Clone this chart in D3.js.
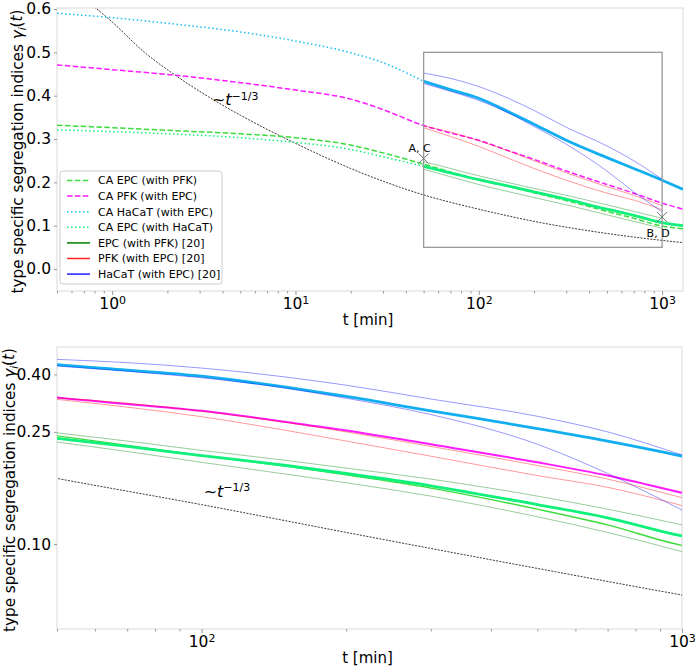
<!DOCTYPE html>
<meta charset="utf-8">
<head>
  <title>Segregation indices</title>
</head>
<style>
body { margin: 0; background: #fff; }
text { font-family: "DejaVu Sans", sans-serif; fill: #000; }
.spine { fill: none; stroke: #e0e0e0; stroke-width: 1.2px; }
.axis path { display: none; }
.axis line { stroke: #999; }
</style>
<body>
<svg width="698" height="666"></svg>
<script src="https://cdnjs.cloudflare.com/ajax/libs/d3/7.8.5/d3.min.js"></script>
<script>
// cellular automaton curves
var tCA = [0.5, 1, 2, 5, 10, 20, 30, 50, 70, 100, 150, 200, 300, 500, 700, 1000, 1300];
var caEpcPfk   = [0.332, 0.326, 0.320, 0.312, 0.303, 0.286, 0.268, 0.242, 0.224, 0.206, 0.189, 0.176, 0.158, 0.133, 0.117, 0.099, 0.093];
var caPfkEpc   = [0.471, 0.460, 0.449, 0.430, 0.413, 0.392, 0.368, 0.331, 0.314, 0.297, 0.271, 0.253, 0.226, 0.195, 0.175, 0.152, 0.138];
var caHacatEpc = [0.590, 0.580, 0.567, 0.547, 0.526, 0.499, 0.476, 0.433, 0.414, 0.394, 0.360, 0.334, 0.297, 0.257, 0.232, 0.205, 0.184];
var caEpcHacat = [0.321, 0.317, 0.312, 0.303, 0.292, 0.276, 0.259, 0.237, 0.222, 0.206, 0.190, 0.178, 0.161, 0.138, 0.124, 0.107, 0.100];

// experiments [20]
var tExp = [50, 70, 100, 150, 200, 300, 500, 700, 1000];
var expEpcPfk = [
  [0.248, 0.232, 0.215, 0.198, 0.186, 0.170, 0.148, 0.133, 0.117],
  [0.230, 0.213, 0.195, 0.177, 0.165, 0.148, 0.125, 0.110, 0.094]
];
var expPfkEpc = [
  [0.330, 0.316, 0.296, 0.270, 0.250, 0.222, 0.190, 0.170, 0.146],
  [0.326, 0.306, 0.283, 0.253, 0.232, 0.205, 0.175, 0.159, 0.137]
];
var expHacatEpc = [
  [0.452, 0.440, 0.421, 0.391, 0.366, 0.327, 0.284, 0.250, 0.207],
  [0.428, 0.410, 0.389, 0.357, 0.329, 0.288, 0.226, 0.178, 0.132]
];

// ~t^(-1/3) guide
var tRef = [0.8, 1, 1.5, 2, 3, 5, 10, 20, 50, 100, 200, 500, 1000, 1300];
var refVals = [0.605, 0.570, 0.500, 0.460, 0.410, 0.355, 0.290, 0.232, 0.171, 0.138, 0.110, 0.082, 0.066, 0.061];

var legendLabels = ["CA EPC (with PFK)", "CA PFK (with EPC)", "CA HaCaT (with EPC)", "CA EPC (with HaCaT)",
                    "EPC (with PFK) [20]", "PFK (with EPC) [20]", "HaCaT (with EPC) [20]"];
var markerT = [50, 1000];
var markerV = [0.255, 0.12];
var markerText = ["A, C", "B, D"];
var zoomT = [50, 1000];
var zoomV = [0.05, 0.5];

var topYTicks = [0, 0.1, 0.2, 0.3, 0.4, 0.5, 0.6];
var topXTicks = [1, 10, 100, 1000];
var botYTicks = [0.10, 0.25, 0.40];
var botXTicks = [100, 1000];

var cGreen = "#3ddc3d", cMag = "#ff1aff", cCyan = "#14bff5", cSpring = "#10f07a";
var cCyanThick = "#12aef0";

var svg = d3.select("svg");

function pts(ts, vs) { return ts.map(function(t, i) { return [t, vs[i]]; }); }

function minorTicks(lo, hi) {
  var out = [];
  for (var e = -1; e <= 3; e++) {
    for (var m = 1; m < 10; m++) {
      var v = m * Math.pow(10, e);
      if (m !== 1 && v >= lo - 1e-9 && v <= hi + 1e-9) out.push(v);
    }
  }
  return out;
}

function panel(cfg) {
  var g = svg.append("g");
  var x = cfg.x, y = cfg.y;
  var x0 = x.range()[0], x1 = x.range()[1];
  var yb = cfg.bottom, yt = cfg.top;

  g.append("clipPath").attr("id", cfg.id)
    .append("rect").attr("x", x0).attr("y", yt).attr("width", x1 - x0).attr("height", yb - yt);

  g.append("rect").attr("class", "spine")
    .attr("x", x0).attr("y", yt).attr("width", x1 - x0).attr("height", yb - yt);

  var line = d3.line()
    .x(function(d) { return x(d[0]); })
    .y(function(d) { return y(d[1]); })
    .curve(d3.curveMonotoneX);

  var plot = g.append("g").attr("clip-path", "url(#" + cfg.id + ")");

  function draw(data, color, width, dash, opacity) {
    plot.append("path")
      .attr("d", line(data))
      .attr("fill", "none")
      .attr("stroke", color)
      .attr("stroke-width", width)
      .attr("stroke-dasharray", dash || null)
      .attr("stroke-opacity", opacity || 1);
  }

  // guide line
  draw(pts(tRef, refVals), "#222", 0.9, "2,1.3");

  var cyan = pts(tCA, caHacatEpc), spring = pts(tCA, caEpcHacat);
  if (cfg.log) {
    draw(pts(tCA, caEpcPfk), cGreen, 1.4);
    draw(spring, cSpring, 2.8);
    draw(pts(tCA, caPfkEpc), cMag, 2);
    draw(cyan, cCyanThick, 2.8);
  } else {
    draw(pts(tCA, caEpcPfk), cGreen, 1.5, "5.5,2.4");
    draw(spring.filter(function(d) { return d[0] <= 50; }), cSpring, 1.5, "1.5,2.5");
    draw(spring.filter(function(d) { return d[0] >= 50; }), cSpring, 2.8);
    draw(pts(tCA, caPfkEpc), cMag, 1.5, "5.5,2.4");
    draw(cyan.filter(function(d) { return d[0] <= 50; }), cCyan, 1.5, "1.5,2.5");
    draw(cyan.filter(function(d) { return d[0] >= 50; }), cCyanThick, 2.8);
  }

  expEpcPfk.forEach(function(s) { draw(pts(tExp, s), "#008000", 1, null, 0.4); });
  expPfkEpc.forEach(function(s) { draw(pts(tExp, s), "#ff0000", 1, null, 0.4); });
  expHacatEpc.forEach(function(s) { draw(pts(tExp, s), "#0000ff", 1, null, 0.4); });

  // axes
  var xAxis = d3.axisBottom(x).tickValues(cfg.xTicks).tickSize(4).tickPadding(3).tickFormat("");
  var gx = g.append("g").attr("class", "axis").attr("transform", "translate(0," + yb + ")").call(xAxis);
  gx.selectAll(".tick text").remove();
  gx.selectAll(".tick").append("text")
    .attr("y", 18).attr("text-anchor", "middle").style("font-size", "15.5px")
    .each(function(d) {
      var t = d3.select(this);
      t.append("tspan").text("10");
      t.append("tspan").attr("dy", "-0.45em").style("font-size", "11px").text(Math.round(Math.log10(d)));
    });
  g.append("g").attr("class", "axis").attr("transform", "translate(0," + yb + ")")
    .call(d3.axisBottom(x).tickValues(minorTicks(x.domain()[0], x.domain()[1])).tickSize(2.5).tickFormat(""));

  var yAxis = d3.axisLeft(y).tickValues(cfg.yTicks).tickSize(3).tickPadding(3).tickFormat(d3.format(cfg.yFmt));
  g.append("g").attr("class", "axis").attr("transform", "translate(" + x0 + ",0)").call(yAxis)
    .selectAll("text").style("font-size", "15.5px").style("font-family", "DejaVu Sans");

  g.append("text").attr("x", (x0 + x1) / 2 - 2).attr("y", yb + 34)
    .attr("text-anchor", "middle").style("font-size", "15px").text("t [min]");

  var yl = g.append("text")
    .attr("transform", "translate(" + cfg.ylabX + "," + ((yt + yb) / 2 + 2) + ") rotate(-90)")
    .attr("text-anchor", "middle").style("font-size", "15.2px");
  yl.append("tspan").text("type specific segregation indices ");
  yl.append("tspan").style("font-style", "italic").text("γ");
  yl.append("tspan").style("font-style", "italic").style("font-size", "10.5px").attr("dy", "0.3em").text("i");
  yl.append("tspan").attr("dy", "-0.3em").text("(");
  yl.append("tspan").style("font-style", "italic").text("t");
  yl.append("tspan").text(")");

  var gl = g.append("text").attr("x", x(cfg.guideAt[0])).attr("y", y(cfg.guideAt[1])).style("font-size", "16px");
  gl.append("tspan").text("~");
  gl.append("tspan").style("font-style", "italic").text("t");
  gl.append("tspan").attr("dy", "-0.5em").style("font-size", "11px").text("−1/3");
  return { g: g, x: x, y: y };
}

// top panel
var topP = panel({
  id: "clipTop",
  x: d3.scaleLog().domain([0.5, 1300]).range([57, 683]),
  y: d3.scaleLinear().domain([0, 0.6]).range([269, 9]),
  top: 8, bottom: 291, log: false, ylabX: 23,
  xTicks: topXTicks, yTicks: topYTicks, yFmt: ".1f",
  guideAt: [3.5, 0.378]
});

// zoom window and markers
topP.g.append("rect")
  .attr("x", topP.x(zoomT[0])).attr("y", topP.y(zoomV[1]))
  .attr("width", topP.x(zoomT[1]) - topP.x(zoomT[0]))
  .attr("height", topP.y(zoomV[0]) - topP.y(zoomV[1]))
  .attr("fill", "none").attr("stroke", "#999").attr("stroke-width", 1.3);

markerT.forEach(function(t, i) {
  var px = topP.x(t), py = topP.y(markerV[i]), s = 5;
  topP.g.append("path")
    .attr("d", "M" + (px - s) + "," + (py - s) + "L" + (px + s) + "," + (py + s) +
               "M" + (px - s) + "," + (py + s) + "L" + (px + s) + "," + (py - s))
    .attr("stroke", "#777").attr("stroke-width", 1);
  topP.g.append("text")
    .attr("x", px - 4)
    .attr("y", py + (i === 0 ? -7 : 20))
    .attr("text-anchor", "middle").style("font-size", "11px")
    .text(markerText[i]);
});

// legend
var legStyles = [
  { c: cGreen, w: 1.5, d: "5.5,2.4" },
  { c: cMag, w: 1.5, d: "5.5,2.4" },
  { c: cCyan, w: 1.5, d: "1.5,2.5" },
  { c: cSpring, w: 1.5, d: "1.5,2.5" },
  { c: "#008000", w: 1.5, d: null },
  { c: "#ff2020", w: 1.5, d: null },
  { c: "#2020ff", w: 1.5, d: null }
];
var leg = svg.append("g").attr("transform", "translate(60,171)");
leg.append("rect").attr("width", 162).attr("height", 113).attr("rx", 3)
  .attr("fill", "#fff").attr("fill-opacity", 0.8).attr("stroke", "#ccc");
legendLabels.forEach(function(lab, i) {
  var yy = 9.5 + i * 15.6;
  leg.append("line").attr("x1", 7).attr("x2", 30).attr("y1", yy).attr("y2", yy)
    .attr("stroke", legStyles[i].c).attr("stroke-width", legStyles[i].w)
    .attr("stroke-dasharray", legStyles[i].d);
  leg.append("text").attr("x", 38).attr("y", yy).attr("dy", "0.36em")
    .style("font-size", "11px").text(lab);
});

// bottom panel
panel({
  id: "clipBot",
  x: d3.scaleLog().domain([50, 1000]).range([57, 682]),
  y: d3.scaleLog().domain([0.05, 0.5]).range([629, 347]),
  top: 347, bottom: 629, log: true, ylabX: 15,
  xTicks: botXTicks, yTicks: botYTicks, yFmt: ".2f",
  guideAt: [101, 0.147]
});
</script>
</body>
</html>
